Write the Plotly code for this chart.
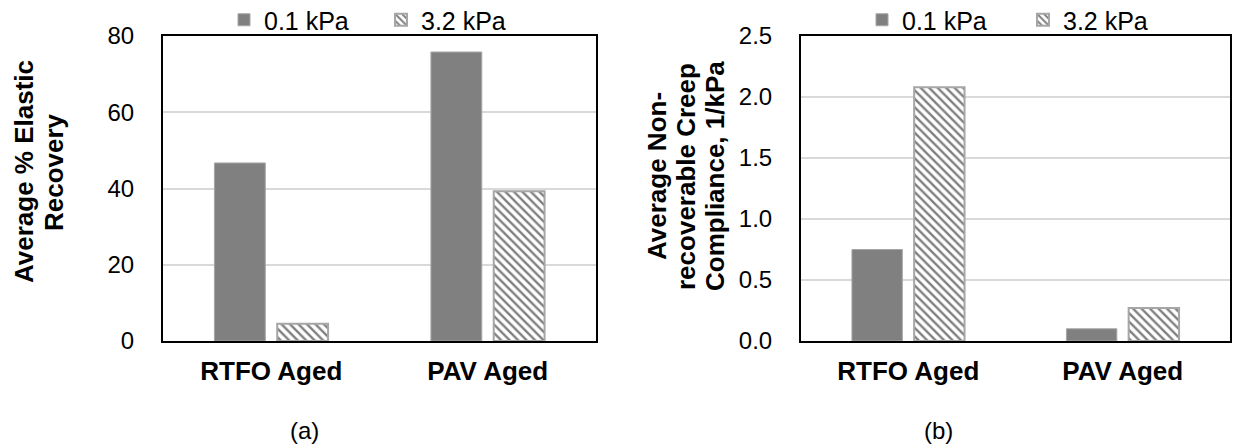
import plotly.graph_objects as go

categories = ["RTFO Aged", "PAV Aged"]
series_names = ["0.1 kPa", "3.2 kPa"]
elastic_01 = [46.7, 75.8]
elastic_32 = [4.5, 39.3]
jnr_01 = [0.75, 0.10]
jnr_32 = [2.08, 0.27]
y1_ticks = [0, 20, 40, 60, 80]
y2_ticks = [0.0, 0.5, 1.0, 1.5, 2.0, 2.5]
title_a = ["Average % Elastic", "Recovery"]
title_b = ["Average Non-", "recoverable Creep", "Compliance, 1/kPa"]

W, H = 1233, 446
FONT = "Liberation Sans, Arial, sans-serif"
SOLID = "#808080"
tick_font = dict(family=FONT, size=24, color="#000000")
cat_font = dict(family=FONT, size=26, color="#000000", weight="bold")
leg_font = dict(family=FONT, size=25, color="#000000")

fig = go.Figure()

def add_pair(v01, v32, xa, ya, leg1, leg2):
    fig.add_trace(go.Bar(
        x=categories, y=v01, name=series_names[0], xaxis=xa, yaxis=ya,
        marker=dict(color=SOLID, line=dict(color="#a6a6a6", width=1)),
        legend=leg1,
    ))
    fig.add_trace(go.Bar(
        x=categories, y=v32, name=series_names[1], xaxis=xa, yaxis=ya,
        marker=dict(color="white", line=dict(color="#a6a6a6", width=2),
                    pattern=dict(shape="\\", fgcolor="#000000", bgcolor="#ffffff",
                                 size=6, solidity=0.4, fillmode="overlay")),
        legend=leg2,
    ))

add_pair(elastic_01, elastic_32, "x", "y", "legend", "legend2")
add_pair(jnr_01, jnr_32, "x2", "y2", "legend3", "legend4")

ydom = [1 - 341 / H, 1 - 36 / H]
axis_common = dict(showline=True, linecolor="#000000", linewidth=2, mirror=True)

def leg(xpx):
    return dict(orientation="h", x=xpx / W, y=1 - 20 / H, xanchor="left",
                yanchor="middle", font=leg_font, bgcolor="rgba(0,0,0,0)",
                itemwidth=30, borderwidth=0)

fig.update_layout(
    width=W, height=H,
    margin=dict(l=0, r=0, t=0, b=0, autoexpand=False),
    paper_bgcolor="white", plot_bgcolor="white",
    barmode="group", bargap=0.42, bargroupgap=0.19,
    xaxis=dict(domain=[163 / W, 596 / W], anchor="y", tickfont=cat_font,
               ticks="", ticklabelstandoff=6, **axis_common),
    yaxis=dict(domain=ydom, anchor="x", range=[0, 80], tickvals=y1_ticks,
               tickfont=tick_font, showgrid=True, gridcolor="#d9d9d9", gridwidth=2,
               ticks="", ticklabelstandoff=22, zeroline=False, **axis_common),
    xaxis2=dict(domain=[801 / W, 1230 / W], anchor="y2", tickfont=cat_font,
                ticks="", ticklabelstandoff=6, **axis_common),
    yaxis2=dict(domain=ydom, anchor="x2", range=[0, 2.5], tickvals=y2_ticks,
                tickformat=".1f", tickfont=tick_font, showgrid=True,
                gridcolor="#d9d9d9", gridwidth=2, ticks="", ticklabelstandoff=22,
                zeroline=False, **axis_common),
    legend=leg(224), legend2=leg(381), legend3=leg(862), legend4=leg(1023),
    showlegend=True,
)

title_font = dict(family=FONT, size=26, color="#000000", weight="bold")
for txt, xc in zip(title_a, [24, 54]):
    fig.add_annotation(text=txt, textangle=-90, x=xc / W, y=1 - 172 / H,
                       xref="paper", yref="paper", showarrow=False, font=title_font,
                       xanchor="center", yanchor="middle")
for txt, xc in zip(title_b, [657, 686, 715]):
    fig.add_annotation(text=txt, textangle=-90, x=xc / W, y=1 - 176 / H,
                       xref="paper", yref="paper", showarrow=False, font=title_font,
                       xanchor="center", yanchor="middle")
fig.add_annotation(text="(a)", x=304 / W, y=1 - 430 / H, xref="paper", yref="paper",
                   showarrow=False, font=dict(family=FONT, size=24, color="#000000"),
                   xanchor="center", yanchor="middle")
fig.add_annotation(text="(b)", x=938 / W, y=1 - 430 / H, xref="paper", yref="paper",
                   showarrow=False, font=dict(family=FONT, size=24, color="#000000"),
                   xanchor="center", yanchor="middle")

fig.write_html(
    "out.html",
    config={"displayModeBar": False},
    post_script="document.body.style.margin='0px';document.body.style.overflow='hidden';",
)
